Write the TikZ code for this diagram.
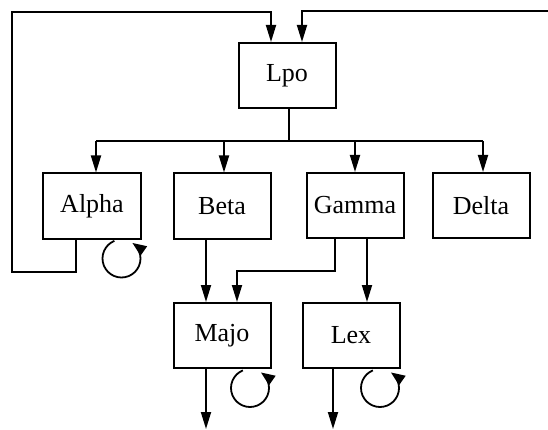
\documentclass[tikz,border=0pt]{standalone}
\usepackage{fontspec}
\setmainfont{Liberation Serif}
\usetikzlibrary{arrows.meta,calc}
\begin{document}
\begin{tikzpicture}[x=1pt,y=-1pt,
  box/.style={draw,line width=2pt,minimum width=97pt,minimum height=65pt,inner sep=0pt,font=\fontsize{26}{30}\selectfont},
  conn/.style={line width=1.8pt},
  arr/.style={conn,-{Triangle[length=17pt,width=10pt]}},
  looparr/.style={conn,-{Triangle[length=14pt,width=11pt]}}]
\useasboundingbox (0,0) rectangle (548,430);
\node[box] (Lpo) at (287,75.5) {Lpo};
\node[box,minimum width=98pt] (Alpha) at (92,206) {Alpha};
\node[box] (Beta) at (222,206) {Beta};
\node[box] (Gamma) at (355,205.5) {Gamma};
\node[box] (Delta) at (481,205.5) {Delta};
\node[box] (Majo) at (222,335.5) {Majo};
\node[box] (Lex) at (351,335.5) {Lex};
% bus
\coordinate (busL) at (96,141);
\coordinate (busR) at (483,141);
\draw[conn] ([xshift=2]Lpo.south) -- ([xshift=2]Lpo.south |- busL);
\draw[conn] (busL) -- (busR);
\draw[arr] (busL) -- ([xshift=4]Alpha.north);
\draw[arr] ([xshift=2]Beta.north |- busL) -- ([xshift=2]Beta.north);
\draw[arr] (Gamma.north |- busL) -- (Gamma.north);
\draw[arr] (busR) -- ([xshift=2]Delta.north);
% feedback loops to Lpo
\coordinate (fbB) at (12,272);
\coordinate (fbT) at (12,12);
\coordinate (rt) at (548,11);
\draw[arr] ([xshift=-16]Alpha.south) |- (fbB) -- (fbT) -| ([xshift=-16]Lpo.north);
\draw[arr] (rt) -| ([xshift=15]Lpo.north);
% to Majo and Lex
\draw[arr] ([xshift=-16]Beta.south) -- ([xshift=-16]Majo.north);
\draw[arr] ([xshift=-20]Gamma.south) -- ++(0,32) -| ([xshift=15]Majo.north);
\draw[arr] ([xshift=12]Gamma.south) -- ([xshift=12]Gamma.south |- Lex.north);
% outputs
\coordinate (outM) at (206,429);
\coordinate (outL) at (333,429);
\draw[arr] ([xshift=-16]Majo.south) -- (outM);
\draw[arr] ([xshift=-18]Lex.south) -- (outL);
% self loops
\draw[looparr] ($(Alpha.south)+(29.5,19)+(-112:19)$) arc[start angle=-112, end angle=-415, radius=19];
\draw[looparr] ($(Majo.south)+(28,19)+(-112:19)$) arc[start angle=-112, end angle=-415, radius=19];
\draw[looparr] ($(Lex.south)+(29,19)+(-112:19)$) arc[start angle=-112, end angle=-415, radius=19];
\end{tikzpicture}
\end{document}
